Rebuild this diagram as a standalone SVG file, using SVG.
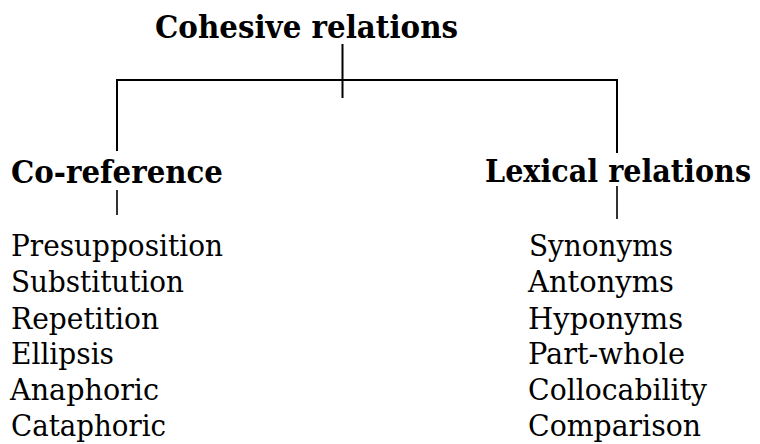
<svg xmlns="http://www.w3.org/2000/svg" width="760" height="444" viewBox="0 0 760 444">
<style>
text{font-family:Georgia,"DejaVu Serif","Liberation Serif",serif;fill:#000}
.h{font-weight:bold;font-size:31px}
.i{font-size:29px}
.ln{stroke:#000;fill:none}
</style>
<rect width="760" height="444" fill="#fff"/>
<g id="connectors">
<path class="ln" stroke-width="2" d="M342.5 44V98M116 80H618M117 79V151M617 79V153"/>
<path class="ln" stroke-width="1.6" d="M117 190V215M617 186V219"/>
</g>
<g id="cohesive-relations"><text class="h" x="155" y="38" textLength="303" lengthAdjust="spacingAndGlyphs">Cohesive relations</text></g>
<g id="co-reference"><text class="h" x="11" y="183" textLength="212" lengthAdjust="spacingAndGlyphs">Co-reference</text></g>
<g id="lexical-relations"><text class="h" transform="translate(485 182) scale(1 1.069)" x="0" y="0" style="font-size:29px" textLength="266" lengthAdjust="spacingAndGlyphs">Lexical relations</text></g>
<g id="co-reference-list">
<text class="i" x="11" y="256" textLength="212" lengthAdjust="spacingAndGlyphs">Presupposition</text>
<text class="i" x="11" y="292" textLength="173" lengthAdjust="spacingAndGlyphs">Substitution</text>
<text class="i" x="11" y="329" textLength="148" lengthAdjust="spacingAndGlyphs">Repetition</text>
<text class="i" x="11" y="364" textLength="103" lengthAdjust="spacingAndGlyphs">Ellipsis</text>
<text class="i" x="10" y="400" textLength="149" lengthAdjust="spacingAndGlyphs">Anaphoric</text>
<text class="i" x="11" y="436" textLength="155" lengthAdjust="spacingAndGlyphs">Cataphoric</text>
</g>
<g id="lexical-relations-list">
<text class="i" x="529" y="256" textLength="144" lengthAdjust="spacingAndGlyphs">Synonyms</text>
<text class="i" x="528" y="292" textLength="146" lengthAdjust="spacingAndGlyphs">Antonyms</text>
<text class="i" x="528" y="329" textLength="155" lengthAdjust="spacingAndGlyphs">Hyponyms</text>
<text class="i" x="528" y="364" textLength="157" lengthAdjust="spacingAndGlyphs">Part-whole</text>
<text class="i" x="528" y="400" textLength="179" lengthAdjust="spacingAndGlyphs">Collocability</text>
<text class="i" x="528" y="436" textLength="173" lengthAdjust="spacingAndGlyphs">Comparison</text>
</g>
</svg>
